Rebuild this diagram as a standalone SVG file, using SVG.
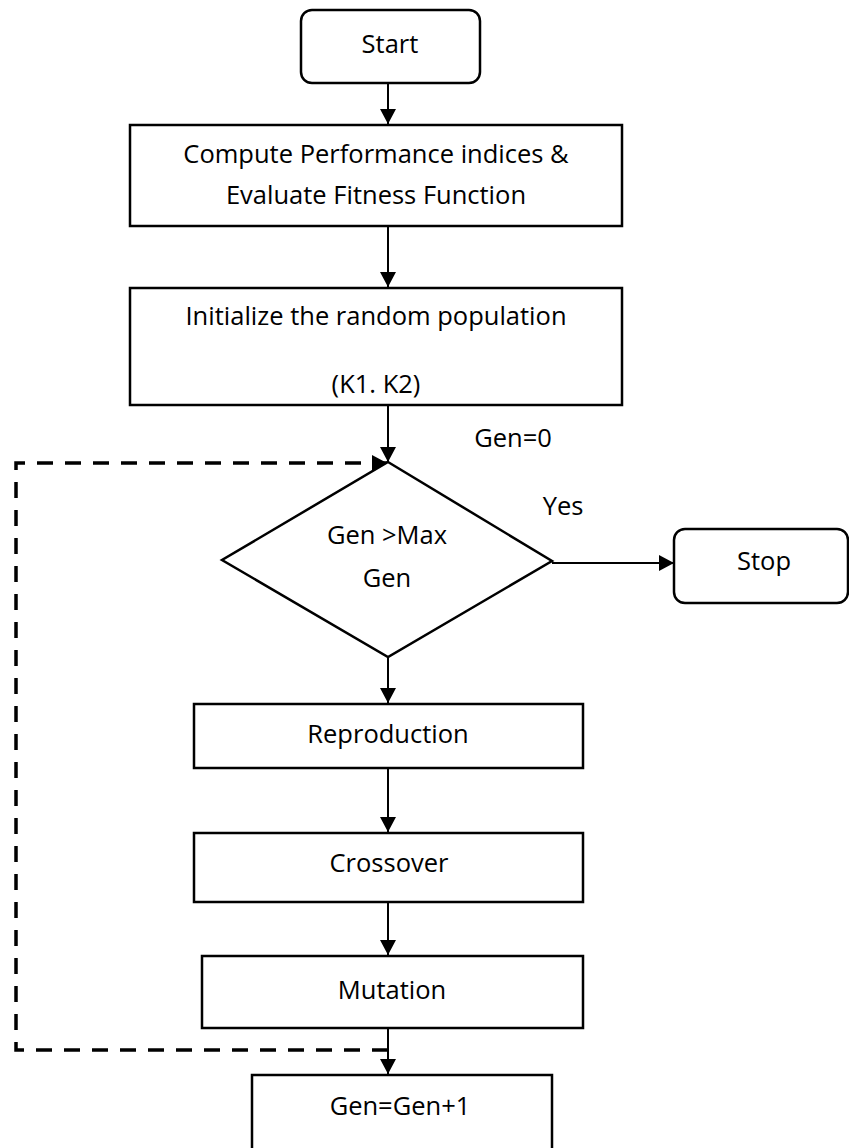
<svg xmlns="http://www.w3.org/2000/svg" width="849" height="1148" viewBox="0 0 849 1148">
<style>
  .box { fill: #fff; stroke: #000; stroke-width: 2.5; }
  .t { font-family: "Open Sans", "Noto Sans", sans-serif; font-size: 25.5px; fill: #000; text-anchor: middle; }
  .c { fill: none; stroke: #000; stroke-width: 2; }
  .d { fill: none; stroke: #000; stroke-width: 3.5; stroke-dasharray: 16 12; }
</style>
<defs>
  <marker id="ah" markerUnits="userSpaceOnUse" markerWidth="16" markerHeight="16" viewBox="0 0 16 16" refX="15" refY="8" orient="auto">
    <path d="M0,0 L15,8 L0,16 Z" fill="#000"/>
  </marker>
</defs>
<rect width="849" height="1148" fill="#fff"/>
<g id="connectors">
  <line class="c" x1="388" y1="83" x2="388" y2="124" marker-end="url(#ah)"/>
  <line class="c" x1="388" y1="226" x2="388" y2="287" marker-end="url(#ah)"/>
  <line class="c" x1="388" y1="405" x2="388" y2="462" marker-end="url(#ah)"/>
  <line class="c" x1="552" y1="563" x2="674" y2="563" marker-end="url(#ah)"/>
  <line class="c" x1="388" y1="657" x2="388" y2="703" marker-end="url(#ah)"/>
  <line class="c" x1="388" y1="768" x2="388" y2="832" marker-end="url(#ah)"/>
  <line class="c" x1="388" y1="902" x2="388" y2="955" marker-end="url(#ah)"/>
  <line class="c" x1="388" y1="1028" x2="388" y2="1074" marker-end="url(#ah)"/>
  <path class="d" d="M388,1050 H16 V463 H387" marker-end="url(#ah)"/>
  <text class="t" x="513" y="447">Gen=0</text>
  <text class="t" x="563" y="515">Yes</text>
</g>
<g id="start">
  <rect class="box" x="301" y="10" width="179" height="73" rx="11"/>
  <text class="t" x="390" y="53">Start</text>
</g>
<g id="compute">
  <rect class="box" x="130" y="125" width="492" height="101"/>
  <text class="t" x="376" y="163">Compute Performance indices &amp;</text>
  <text class="t" x="376" y="204">Evaluate Fitness Function</text>
</g>
<g id="init">
  <rect class="box" x="130" y="288" width="492" height="117"/>
  <text class="t" x="376" y="325">Initialize the random population</text>
  <text class="t" x="376" y="393">(K1. K2)</text>
</g>
<g id="decision">
  <polygon class="box" points="388,462 552,561 388,657 222,560"/>
  <text class="t" x="387" y="544">Gen &gt;Max</text>
  <text class="t" x="387" y="587">Gen</text>
</g>
<g id="stop">
  <rect class="box" x="674" y="529" width="174" height="74" rx="11"/>
  <text class="t" x="764" y="570">Stop</text>
</g>
<g id="reproduction">
  <rect class="box" x="194" y="704" width="389" height="64"/>
  <text class="t" x="388" y="743">Reproduction</text>
</g>
<g id="crossover">
  <rect class="box" x="194" y="833" width="389" height="69"/>
  <text class="t" x="389" y="872">Crossover</text>
</g>
<g id="mutation">
  <rect class="box" x="202" y="956" width="381" height="72"/>
  <text class="t" x="392" y="999">Mutation</text>
</g>
<g id="increment">
  <rect class="box" x="252" y="1075" width="300" height="100"/>
  <text class="t" x="400" y="1115">Gen=Gen+1</text>
</g>
</svg>
